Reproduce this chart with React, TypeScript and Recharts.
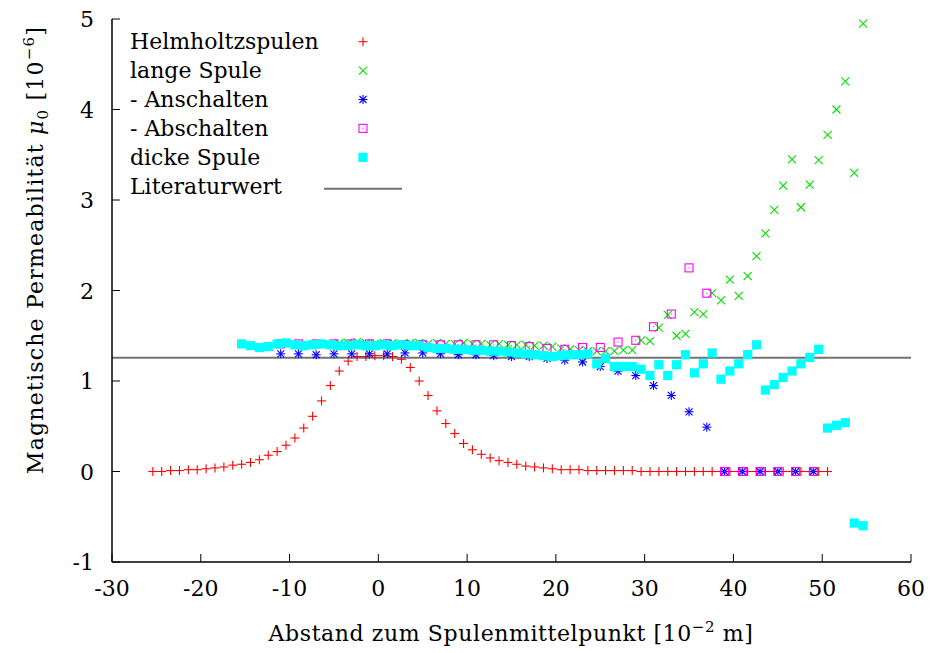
import React from 'react';
import { ScatterChart, Scatter, XAxis, YAxis, ReferenceLine, Legend } from 'recharts';

// ---------------- data ----------------
const helmX = [-25.4, -24.4, -23.4, -22.4, -21.4, -20.4, -19.4, -18.4, -17.4, -16.4, -15.4, -14.4, -13.4, -12.4, -11.4, -10.4, -9.4, -8.4, -7.4, -6.4, -5.4, -4.4, -3.4, -2.4, -1.4, -0.4, 0.6, 1.6, 2.6, 3.6, 4.6, 5.6, 6.6, 7.6, 8.6, 9.6, 10.6, 11.6, 12.6, 13.6, 14.6, 15.6, 16.6, 17.6, 18.6, 19.6, 20.6, 21.6, 22.6, 23.6, 24.6, 25.6, 26.6, 27.6, 28.6, 29.6, 30.6, 31.6, 32.6, 33.6, 34.6, 35.6, 36.6, 37.6, 38.6, 39.6, 40.6, 41.6, 42.6, 43.6, 44.6, 45.6, 46.6, 47.6, 48.6, 49.6, 50.6];
const helmY = [0.0, 0.0, 0.01, 0.01, 0.02, 0.02, 0.03, 0.04, 0.05, 0.07, 0.08, 0.1, 0.13, 0.18, 0.22, 0.29, 0.37, 0.48, 0.61, 0.78, 0.95, 1.11, 1.22, 1.27, 1.27, 1.28, 1.28, 1.27, 1.24, 1.15, 1.0, 0.84, 0.67, 0.53, 0.42, 0.31, 0.24, 0.19, 0.15, 0.12, 0.1, 0.08, 0.06, 0.05, 0.04, 0.03, 0.02, 0.02, 0.02, 0.01, 0.01, 0.01, 0.01, 0.01, 0.01, 0.0, 0.0, 0.0, 0.0, 0.0, 0.0, 0.0, 0.0, 0.0, 0.0, 0.0, 0.0, 0.0, 0.0, 0.0, 0.0, 0.0, 0.0, 0.0, 0.0, 0.0, 0.0];

const langX = [-4.4, -3.4, -2.4, -1.4, -0.4, 0.6, 1.6, 2.6, 3.6, 4.6, 5.6, 6.6, 7.6, 8.6, 9.6, 10.6, 11.6, 12.6, 13.6, 14.6, 15.6, 16.6, 17.6, 18.6, 19.6, 20.6, 21.6, 22.6, 23.6, 24.6, 25.6, 26.6, 27.6, 28.6, 29.6, 30.6, 31.6, 32.6, 33.6, 34.6, 35.6, 36.6, 37.6, 38.6, 39.6, 40.6, 41.6, 42.6, 43.6, 44.6, 45.6, 46.6, 47.6, 48.6, 49.6, 50.6, 51.6, 52.6, 53.6, 54.6];
const langY = [1.42, 1.42, 1.43, 1.42, 1.41, 1.42, 1.42, 1.41, 1.42, 1.42, 1.41, 1.42, 1.41, 1.41, 1.42, 1.41, 1.41, 1.4, 1.41, 1.4, 1.4, 1.4, 1.39, 1.39, 1.38, 1.36, 1.35, 1.34, 1.33, 1.33, 1.33, 1.33, 1.34, 1.34, 1.45, 1.44, 1.59, 1.73, 1.5, 1.52, 1.76, 1.74, 1.97, 1.89, 2.12, 1.94, 2.16, 2.38, 2.63, 2.89, 3.16, 3.45, 2.92, 3.17, 3.44, 3.72, 4.0, 4.31, 3.3, 4.95];

const anX = [-11, -9, -7, -5, -3, -1, 1, 3, 5, 7, 9, 11, 13, 15, 17, 19, 21, 23, 25, 27, 29, 31, 33, 35, 37, 39, 41, 43, 45, 47, 49];
const anY = [1.3, 1.3, 1.29, 1.3, 1.3, 1.3, 1.3, 1.31, 1.31, 1.3, 1.29, 1.29, 1.28, 1.27, 1.27, 1.25, 1.23, 1.21, 1.16, 1.11, 1.06, 0.95, 0.84, 0.66, 0.49, 0, 0, 0, 0, 0, 0];

const abX = [-11, -9, -7, -5, -3, -1, 1, 3, 5, 7, 9, 11, 13, 15, 17, 19, 21, 23, 25, 27, 29, 31, 33, 35, 37, 39, 41, 43, 45, 47, 49];
const abY = [1.41, 1.41, 1.41, 1.41, 1.41, 1.41, 1.41, 1.4, 1.4, 1.4, 1.4, 1.4, 1.4, 1.39, 1.38, 1.36, 1.35, 1.37, 1.37, 1.43, 1.45, 1.6, 1.74, 2.25, 1.97, 0, 0, 0, 0, 0, 0];

const dickX = [-15.4, -14.4, -13.4, -12.4, -11.4, -10.4, -9.4, -8.4, -7.4, -6.4, -5.4, -4.4, -3.4, -2.4, -1.4, -0.4, 0.6, 1.6, 2.6, 3.6, 4.6, 5.6, 6.6, 7.6, 8.6, 9.6, 10.6, 11.6, 12.6, 13.6, 14.6, 15.6, 16.6, 17.6, 18.6, 19.6, 20.6, 21.6, 22.6, 23.6, 24.6, 25.6, 26.6, 27.6, 28.6, 29.6, 30.6, 31.6, 32.6, 33.6, 34.6, 35.6, 36.6, 37.6, 38.6, 39.6, 40.6, 41.6, 42.6, 43.6, 44.6, 45.6, 46.6, 47.6, 48.6, 49.6, 50.6, 51.6, 52.6, 53.6, 54.6];
const dickY = [1.41, 1.39, 1.37, 1.38, 1.41, 1.42, 1.4, 1.39, 1.4, 1.41, 1.4, 1.39, 1.39, 1.4, 1.39, 1.39, 1.4, 1.39, 1.4, 1.39, 1.39, 1.37, 1.36, 1.36, 1.35, 1.35, 1.34, 1.34, 1.33, 1.33, 1.32, 1.31, 1.3, 1.29, 1.28, 1.27, 1.28, 1.29, 1.29, 1.3, 1.19, 1.25, 1.16, 1.16, 1.16, 1.13, 1.06, 1.18, 1.06, 1.18, 1.29, 1.09, 1.19, 1.31, 1.02, 1.11, 1.19, 1.29, 1.4, 0.9, 0.96, 1.04, 1.11, 1.19, 1.26, 1.35, 0.48, 0.51, 0.54, -0.57, -0.6];

const literaturwert = 1.2566;

const xTicks = [-30, -20, -10, 0, 10, 20, 30, 40, 50, 60];
const yTicks = [-1, 0, 1, 2, 3, 4, 5];

const seriesNames = ['Helmholtzspulen', 'lange Spule', '- Anschalten', '- Abschalten', 'dicke Spule', 'Literaturwert'];

const toPoints = (xs: number[], ys: number[]) => xs.map((x, i) => ({ x, y: ys[i] }));

// ---------------- style ----------------
const FONT = '"DejaVu Serif", serif';
const FS = 22;
const W = 933;
const H = 653;
const PLOT_TOP = 19;
const PLOT_RIGHT_MARGIN = 22;
const LEFT_W = 112;
const BOTTOM_H = 91;
const TICK = 8;

const RED = '#ff0000';
const GREEN = '#00e000';
const BLUE = '#0000ff';
const MAGENTA = '#ff00ff';
const CYAN = '#00ffff';

// marker shapes
const Plus = ({ cx, cy }: any) => (
  <g stroke={RED} strokeWidth={1.1}>
    <line x1={cx - 4.5} y1={cy} x2={cx + 4.5} y2={cy} />
    <line x1={cx} y1={cy - 4.5} x2={cx} y2={cy + 4.5} />
  </g>
);
const Cross = ({ cx, cy }: any) => (
  <g stroke={GREEN} strokeWidth={1.1}>
    <line x1={cx - 4} y1={cy - 4} x2={cx + 4} y2={cy + 4} />
    <line x1={cx - 4} y1={cy + 4} x2={cx + 4} y2={cy - 4} />
  </g>
);
const Star = ({ cx, cy }: any) => (
  <g stroke={BLUE} strokeWidth={1.1}>
    <line x1={cx - 4.5} y1={cy} x2={cx + 4.5} y2={cy} />
    <line x1={cx} y1={cy - 4.5} x2={cx} y2={cy + 4.5} />
    <line x1={cx - 3.5} y1={cy - 3.5} x2={cx + 3.5} y2={cy + 3.5} />
    <line x1={cx - 3.5} y1={cy + 3.5} x2={cx + 3.5} y2={cy - 3.5} />
  </g>
);
const OpenSq = ({ cx, cy }: any) => (
  <g>
    <rect x={cx - 4} y={cy - 4} width={8} height={8} fill="none" stroke={MAGENTA} strokeWidth={1.1} />
    <rect x={cx - 0.5} y={cy - 0.5} width={1} height={1} fill={MAGENTA} />
  </g>
);
const FillSq = ({ cx, cy }: any) => (
  <rect x={cx - 4.6} y={cy - 4.6} width={9.2} height={9.2} fill={CYAN} />
);

const markers = [Plus, Cross, Star, OpenSq, FillSq];

// ticks
const BottomTick = ({ x, y, payload }: any) => (
  <g>
    <line x1={x} x2={x} y1={y} y2={y - TICK} stroke="#000" strokeWidth={1} />
    <text x={x} y={y + 34} textAnchor="middle" fontFamily={FONT} fontSize={FS} fill="#000">
      {String(payload.value)}
    </text>
  </g>
);
const TopTick = ({ x, y }: any) => (
  <line x1={x} x2={x} y1={y} y2={y + TICK} stroke="#000" strokeWidth={1} />
);
const LeftTick = ({ x, y, payload }: any) => (
  <g>
    <line x1={x} x2={x + TICK} y1={y} y2={y} stroke="#000" strokeWidth={1} />
    <text x={x - 18} y={y + 8} textAnchor="end" fontFamily={FONT} fontSize={FS} fill="#000">
      {String(payload.value)}
    </text>
  </g>
);
const RightTick = ({ x, y }: any) => (
  <line x1={x - TICK} x2={x} y1={y} y2={y} stroke="#000" strokeWidth={1} />
);

const XTitle = () => (
  <text x={511} y={641} textAnchor="middle" fontFamily={FONT} fontSize={FS} fill="#000" letterSpacing={0.6}>
    {'Abstand zum Spulenmittelpunkt [10'}
    <tspan fontSize={15} dy={-9}>{'−2'}</tspan>
    <tspan dy={9}>{' m]'}</tspan>
  </text>
);

const YTitle = () => (
  <text
    transform="rotate(-90 43 250)"
    x={43}
    y={250}
    textAnchor="middle"
    fontFamily={FONT}
    fontSize={FS}
    fill="#000"
    letterSpacing={1.2}
  >
    {'Magnetische Permeabilität '}
    <tspan fontStyle="italic">{'μ'}</tspan>
    <tspan fontSize={15} dy={5}>{'0'}</tspan>
    <tspan dy={-5}>{' [10'}</tspan>
    <tspan fontSize={15} dy={-9}>{'−6'}</tspan>
    <tspan dy={9}>{']'}</tspan>
  </text>
);

const LegendBox = () => {
  const textX = 130;
  const symX = 363;
  const base0 = 49.3;
  const step = 28.9;
  return (
    <svg width={W} height={H} style={{ position: 'absolute', left: 0, top: 0, pointerEvents: 'none' }}>
      {seriesNames.map((name, i) => {
        const base = base0 + i * step;
        const cy = base - 7.6;
        const M = markers[i];
        return (
          <g key={name}>
            <text x={textX} y={base} fontFamily={FONT} fontSize={FS} fill="#000">
              {name}
            </text>
            {M ? (
              <M cx={symX} cy={cy} />
            ) : (
              <line x1={324} x2={402} y1={cy + 2.5} y2={cy + 2.5} stroke="#000" strokeOpacity={0.55} strokeWidth={2} />
            )}
          </g>
        );
      })}
    </svg>
  );
};

export default function App() {
  return (
    <div style={{ position: 'absolute', left: 0, top: 0, width: W, height: H, background: '#fff' }}>
      <ScatterChart
        width={W}
        height={H}
        margin={{ top: PLOT_TOP, right: PLOT_RIGHT_MARGIN, left: 0, bottom: 0 }}
      >
        <XAxis
          xAxisId="b"
          type="number"
          dataKey="x"
          domain={[-30, 60]}
          ticks={xTicks}
          interval={0}
          allowDataOverflow
          height={BOTTOM_H}
          tickSize={0}
          tickMargin={0}
          tick={<BottomTick />}
          axisLine={{ stroke: '#000', strokeWidth: 1.5 }}
          tickLine={false}
          label={<XTitle />}
        />
        <XAxis
          xAxisId="t"
          orientation="top"
          type="number"
          dataKey="x"
          domain={[-30, 60]}
          ticks={xTicks}
          interval={0}
          allowDataOverflow
          height={0}
          tickSize={0}
          tickMargin={0}
          tick={<TopTick />}
          axisLine={{ stroke: '#000', strokeWidth: 1.5 }}
          tickLine={false}
        />
        <YAxis
          yAxisId="l"
          type="number"
          dataKey="y"
          domain={[-1, 5]}
          ticks={yTicks}
          interval={0}
          allowDataOverflow
          width={LEFT_W}
          tickSize={0}
          tickMargin={0}
          tick={<LeftTick />}
          axisLine={{ stroke: '#000', strokeWidth: 1.5 }}
          tickLine={false}
          label={<YTitle />}
        />
        <YAxis
          yAxisId="r"
          orientation="right"
          type="number"
          dataKey="y"
          domain={[-1, 5]}
          ticks={yTicks}
          interval={0}
          allowDataOverflow
          width={0}
          tickSize={0}
          tickMargin={0}
          tick={<RightTick />}
          axisLine={{ stroke: '#000', strokeWidth: 1.5 }}
          tickLine={false}
        />
        <Scatter xAxisId="b" yAxisId="l" name={seriesNames[0]} data={toPoints(helmX, helmY)} shape={(p: any) => <Plus cx={p.cx} cy={p.cy} />} isAnimationActive={false} />
        <Scatter xAxisId="b" yAxisId="l" name={seriesNames[1]} data={toPoints(langX, langY)} shape={(p: any) => <Cross cx={p.cx} cy={p.cy} />} isAnimationActive={false} />
        <Scatter xAxisId="b" yAxisId="l" name={seriesNames[2]} data={toPoints(anX, anY)} shape={(p: any) => <Star cx={p.cx} cy={p.cy} />} isAnimationActive={false} />
        <Scatter xAxisId="b" yAxisId="l" name={seriesNames[3]} data={toPoints(abX, abY)} shape={(p: any) => <OpenSq cx={p.cx} cy={p.cy} />} isAnimationActive={false} />
        <Scatter xAxisId="b" yAxisId="l" name={seriesNames[4]} data={toPoints(dickX, dickY)} shape={(p: any) => <FillSq cx={p.cx} cy={p.cy} />} isAnimationActive={false} />
        <ReferenceLine xAxisId="b" yAxisId="l" y={literaturwert} stroke="#000" strokeOpacity={0.55} strokeWidth={2} />
        <Legend
          layout="vertical"
          align="center"
          verticalAlign="middle"
          content={() => <LegendBox />}
          wrapperStyle={{ position: 'absolute', left: 0, top: 0, width: W, height: H, pointerEvents: 'none' }}
        />
      </ScatterChart>
    </div>
  );
}
